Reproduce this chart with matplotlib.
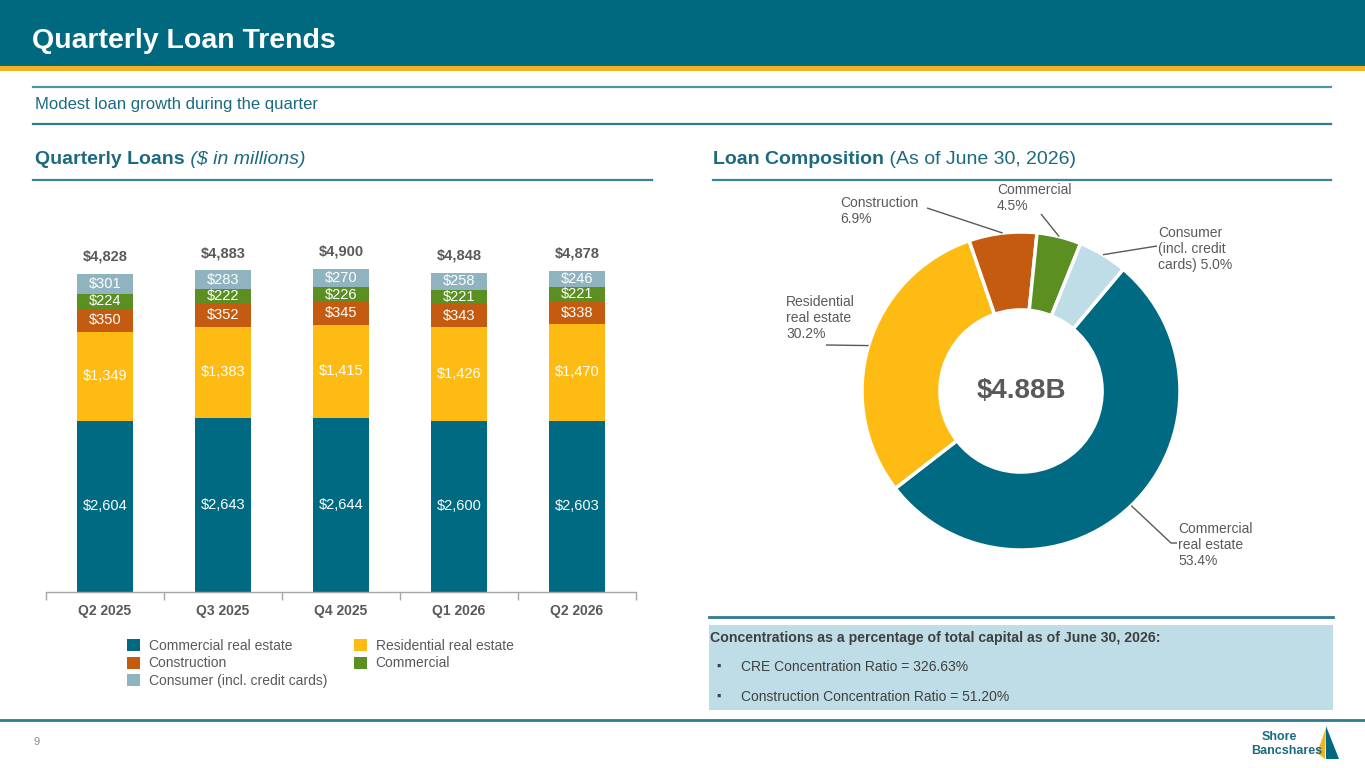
import matplotlib
matplotlib.use('Agg')
import matplotlib.pyplot as plt
from matplotlib.patches import Rectangle, Polygon, Patch
from matplotlib.lines import Line2D
import numpy as np

plt.rcParams['font.family'] = ['Liberation Sans', 'DejaVu Sans']

# ---------------- data ----------------
quarters = ['Q2 2025', 'Q3 2025', 'Q4 2025', 'Q1 2026', 'Q2 2026']
cre = [2604, 2643, 2644, 2600, 2603]
residential = [1349, 1383, 1415, 1426, 1470]
construction = [350, 352, 345, 343, 338]
commercial = [224, 222, 226, 221, 221]
consumer = [301, 283, 270, 258, 246]
series_names = ['Commercial real estate', 'Residential real estate', 'Construction',
                'Commercial', 'Consumer (incl. credit cards)']

donut_names = ['Commercial\nreal estate', 'Residential\nreal estate', 'Construction',
               'Commercial', 'Consumer\n(incl. credit\ncards)']
donut_pct = [53.4, 30.2, 6.9, 4.5, 5.0]
donut_center = '$4.88B'

concentration_title = 'Concentrations as a percentage of total capital as of June 30, 2026:'
concentration_items = ['CRE Concentration Ratio = 326.63%',
                       'Construction Concentration Ratio = 51.20%']

# ---------------- style ----------------
TEAL = '#006A82'
YELLOW = '#FDBB14'
ORANGE = '#C55A11'
GREEN = '#5B8F22'
CONS_BAR = '#8FB4C0'
CONS_PIE = '#BEDDE6'
GRAY = '#595959'
HEAD = '#1C6A80'
RULE = '#3A8398'

W, H = 1365, 768
fig = plt.figure(figsize=(W / 100, H / 100), dpi=100)
fig.patch.set_facecolor('white')


def fx(x):
    return x / W


def fy(y):
    return 1 - y / H


def hrule(x0, x1, y, color=RULE, lw=1.6):
    fig.add_artist(Line2D([fx(x0), fx(x1)], [fy(y), fy(y)], color=color, lw=lw,
                          transform=fig.transFigure))


# header band
fig.add_artist(Rectangle((0, fy(66)), 1, 66 / H, transform=fig.transFigure,
                         facecolor='#00687F', edgecolor='none'))
fig.add_artist(Rectangle((0, fy(71)), 1, 5 / H, transform=fig.transFigure,
                         facecolor='#F0B323', edgecolor='none'))
fig.text(fx(32), fy(41), 'Quarterly Loan Trends', color='white', fontsize=20.5,
         fontweight='bold', va='center', ha='left')

hrule(33, 1331, 87, color='#4F93A7')
fig.text(fx(35), fy(105), 'Modest loan growth during the quarter', color=HEAD,
         fontsize=12, va='center', ha='left')
hrule(33, 1331, 124, color='#2E7A90')

renderer = fig.canvas.get_renderer()
t1 = fig.text(fx(35), fy(160), 'Quarterly Loans', color=HEAD, fontsize=14,
              fontweight='bold', va='center', ha='left')
bb = t1.get_window_extent(renderer)
fig.text(bb.x1 / W, fy(160), ' ($ in millions)', color=HEAD, fontsize=14,
         fontstyle='italic', va='center', ha='left')
t2 = fig.text(fx(713), fy(160), 'Loan Composition', color=HEAD, fontsize=14,
              fontweight='bold', va='center', ha='left')
bb = t2.get_window_extent(renderer)
fig.text(bb.x1 / W, fy(160), ' (As of June 30, 2026)', color=HEAD, fontsize=14,
         va='center', ha='left')
hrule(33, 652, 180)
hrule(713, 1331, 180)

# ---------------- stacked bars ----------------
ax = fig.add_axes([fx(46), fy(592), (636 - 46) / W, (592 - 240) / H])
series = [cre, residential, construction, commercial, consumer]
colors = [TEAL, YELLOW, ORANGE, GREEN, CONS_BAR]
x = np.arange(len(quarters))
bottom = np.zeros(len(quarters))
handles = []
for name, vals, col in zip(series_names, series, colors):
    vals = np.array(vals, dtype=float)
    ax.bar(x, vals, bottom=bottom, width=0.48, color=col, edgecolor='none')
    handles.append(Patch(facecolor=col, edgecolor='none', label=name))
    for xi, b, v in zip(x, bottom, vals):
        ax.text(xi, b + v / 2, f'${int(v):,}', color='white', fontsize=10.5,
                ha='center', va='center')
    bottom = bottom + vals

for xi, tot in zip(x, bottom):
    ax.annotate(f'${int(tot):,}', xy=(xi, tot), xytext=(0, 12.5),
                textcoords='offset points', ha='center', va='center',
                fontsize=10.5, fontweight='bold', color=GRAY)

ax.set_xlim(-0.5, len(quarters) - 0.5)
ax.set_ylim(0, 5345)
for s in ['top', 'right', 'left']:
    ax.spines[s].set_visible(False)
ax.spines['bottom'].set_color('#A6A6A6')
ax.spines['bottom'].set_linewidth(1)
ax.set_yticks([])
ax.set_xticks(x)
ax.set_xticklabels(quarters, fontsize=10, fontweight='bold', color=GRAY)
ax.tick_params(axis='x', which='major', length=0, pad=9)
ax.set_xticks(np.arange(-0.5, len(quarters), 1), minor=True)
ax.tick_params(axis='x', which='minor', length=6, color='#A6A6A6', width=1)
ax.patch.set_alpha(0)

order = [0, 2, 4, 1, 3]
leg = fig.legend([handles[i] for i in order], [series_names[i] for i in order],
                 ncol=2, loc='upper left', bbox_to_anchor=(fx(127), fy(639)),
                 frameon=False, fontsize=10, handlelength=0.95, handleheight=0.95,
                 handletextpad=0.6, columnspacing=1.95, labelspacing=0.25,
                 borderpad=0, borderaxespad=0)
for t in leg.get_texts():
    t.set_color(GRAY)

# ---------------- donut ----------------
CX, CY, R = 1021, 391, 159
half = 220
dax = fig.add_axes([fx(CX - half), fy(CY + half), 2 * half / W, 2 * half / H])
pie_colors = [TEAL, YELLOW, ORANGE, GREEN, CONS_PIE]
wedges, _ = dax.pie(donut_pct, colors=pie_colors, startangle=50, counterclock=False,
                    radius=1, wedgeprops=dict(width=0.49, edgecolor='white', linewidth=2.5))
lim = half / R
dax.set_xlim(-lim, lim)
dax.set_ylim(-lim, lim)
dax.set_aspect('equal')
dax.axis('off')
dax.text(0, 0, donut_center, ha='center', va='center', fontsize=20,
         fontweight='bold', color=GRAY)


def d(px_, py_):
    return ((px_ - CX) / R, (CY - py_) / R)


label_layout = [
    dict(pos=(1178, 545), leader=[(1177, 543), (1171, 543)]),
    dict(pos=(786, 318), leader=[(826, 345)]),
    dict(pos=(840, 211), leader=[(927, 208)]),
    dict(pos=(997, 198), leader=[(1041, 214)]),
    dict(pos=(1158, 249), leader=[(1157, 246)]),
]
for w, name, pct, lay in zip(wedges, donut_names, donut_pct, label_layout):
    mid = np.deg2rad((w.theta1 + w.theta2) / 2)
    edge = (np.cos(mid) * 1.0, np.sin(mid) * 1.0)
    pts = [d(*p) for p in lay['leader']] + [edge]
    dax.plot([p[0] for p in pts], [p[1] for p in pts], color=GRAY, lw=1,
             solid_capstyle='butt', clip_on=False)
    sep = ' ' if name.endswith(')') else '\n'
    tx, ty = d(*lay['pos'])
    dax.text(tx, ty, f'{name}{sep}{pct:.1f}%', ha='left', va='center', fontsize=10,
             color=GRAY, linespacing=1.15)

# ---------------- concentration box ----------------
hrule(709, 1333, 617, color='#2E7A90', lw=2)
fig.add_artist(Rectangle((fx(709), fy(710)), (1333 - 709) / W, (710 - 625) / H,
                         transform=fig.transFigure, facecolor=CONS_PIE, edgecolor='none'))
fig.text(fx(710), fy(638), concentration_title, fontsize=10.2, fontweight='bold',
         color='#404040', va='center', ha='left')
for yy, item in zip([667, 697], concentration_items):
    fig.text(fx(716), fy(yy), '\u25aa', fontsize=9, color='#404040',
             va='center', ha='left')
    fig.text(fx(741), fy(yy), item, fontsize=10, color='#404040', va='center', ha='left')

# ---------------- footer ----------------
hrule(0, W, 720, color='#2E7A90', lw=2)
fig.text(fx(37), fy(742), '9', fontsize=8, color='#8C8C8C', va='center', ha='center')
fig.text(fx(1297), fy(737), 'Shore', fontsize=9, fontweight='bold', color=HEAD,
         va='center', ha='right')
fig.text(fx(1322), fy(751), 'Bancshares', fontsize=9, fontweight='bold', color=HEAD,
         va='center', ha='right')
fig.add_artist(Polygon([(fx(1326), fy(726)), (fx(1339), fy(759)), (fx(1326), fy(759))],
                       closed=True, transform=fig.transFigure, facecolor='#00687F',
                       edgecolor='none'))
fig.add_artist(Polygon([(fx(1326), fy(728)), (fx(1325), fy(759)), (fx(1317), fy(753))],
                       closed=True, transform=fig.transFigure, facecolor='#F0B323',
                       edgecolor='none'))

fig.savefig('out.png', dpi=100)
